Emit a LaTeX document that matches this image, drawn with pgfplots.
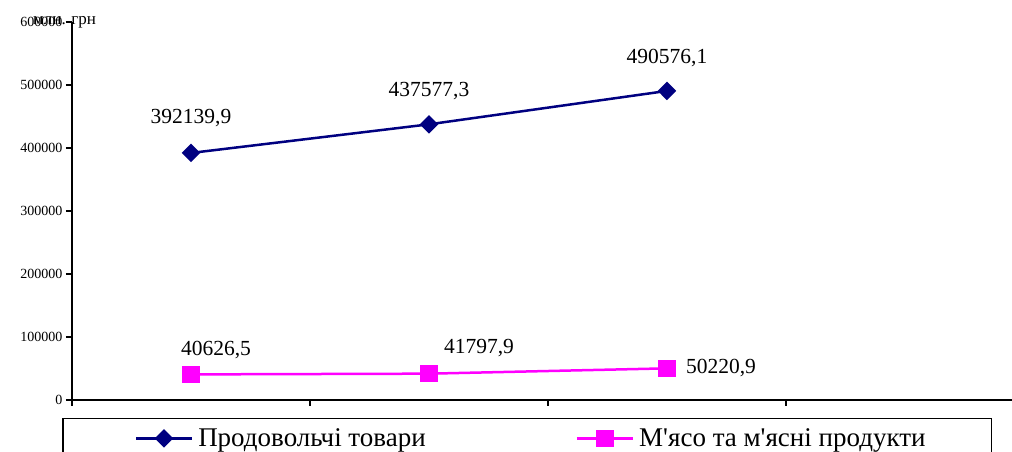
\documentclass[border=0pt]{standalone}
\usepackage{pgfplots}
\pgfplotsset{compat=1.18}
\usetikzlibrary{plotmarks}
\usepackage{fontspec}
\setmainfont{Liberation Serif}[Ligatures=TeXOff]

\definecolor{navyline}{RGB}{0,0,128}
\definecolor{magline}{RGB}{255,0,255}

\begin{document}
\begin{tikzpicture}
\begin{axis}[
    at={(72pt,52pt)}, anchor=south west,
    scale only axis,
    width=940pt, height=378pt,
    xmin=-0.5, xmax=3.45,
    ymin=0, ymax=600000,
    axis x line*=bottom,
    axis y line*=left,
    axis line style={line width=1.6pt, -},
    xtick={-0.5,0.5,1.5,2.5,3.5},
    xticklabels={},
    ytick={0,100000,200000,300000,400000,500000,600000},
    yticklabels={0,100000,200000,300000,400000,500000,600000},
    scaled y ticks=false,
    tick align=outside,
    major tick length=6pt,
    tick style={line width=1.6pt, black},
    y tick label style={font=\fontsize{14}{15}\selectfont},
    clip=false,
    legend columns=2,
    legend style={
        at={(-0.01064,-0.0476)}, anchor=north west,
        draw=black, line width=1.5pt,
        font=\fontsize{27}{32}\selectfont,
        inner xsep=72pt, inner ysep=8pt,
        /tikz/every even column/.append style={column sep=148pt},
    },
    legend image code/.code={
        \draw[mark repeat=2,mark phase=2,#1]
        plot coordinates {(0pt,0pt) (28pt,0pt) (56pt,0pt)};
    },
]
\addplot[navyline, line width=2.5pt, mark=diamond*,
    mark options={xscale=1.33, solid}, mark size=7.5pt]
coordinates {
    (0, 392139.9)
    (1, 437577.3)
    (2, 490576.1)
};
\addlegendentry{\hspace{3pt}Продовольчі товари}
\addplot[magline, line width=2.5pt, mark=square*,
    mark options={solid}, mark size=7.5pt]
coordinates {
    (0, 40626.5)
    (1, 41797.9)
    (2, 50220.9)
};
\addlegendentry{\hspace{3pt}М'ясо та м'ясні продукти\kern-8pt}

\begin{scope}[font=\fontsize{21.5}{25}\selectfont]
\node at ([yshift=35pt]axis cs:0,392139.9) {392139,9};
\node at ([yshift=33pt]axis cs:1,437577.3) {437577,3};
\node at ([yshift=33pt]axis cs:2,490576.1) {490576,1};
\node at ([xshift=25pt,yshift=24pt]axis cs:0,40626.5) {40626,5};
\node at ([xshift=50pt,yshift=26pt]axis cs:1,41797.9) {41797,9};
\node at ([xshift=54pt,yshift=0pt]axis cs:2,50220.9) {50220,9};
\end{scope}
\end{axis}
\node[anchor=west, inner sep=0pt, font=\fontsize{17}{18}\selectfont] at (33pt,430pt) {млн. грн};
\pgfresetboundingbox
\path[use as bounding box] (0,0) rectangle (1012pt,452pt);
\end{tikzpicture}
\end{document}
